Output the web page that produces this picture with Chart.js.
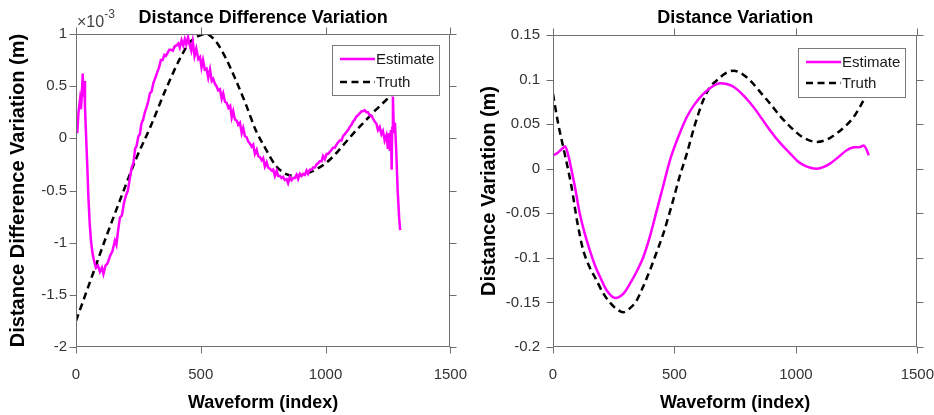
<!DOCTYPE html>
<html>
<head>
<meta charset="utf-8">
<script src="https://cdn.jsdelivr.net/npm/chart.js@4.4.1/dist/chart.umd.min.js"></script>
<style>
  html, body { margin: 0; padding: 0; background: #fff; }
  #wrap { position: relative; width: 934px; height: 415px; }
  .pane { position: absolute; top: 0; width: 467px; height: 415px; }
</style>
</head>
<body>
<div id="wrap">
  <div class="pane" style="left:0"><canvas id="ddChart" width="467" height="415"></canvas></div>
  <div class="pane" style="left:467px"><canvas id="dChart" width="467" height="415"></canvas></div>
</div>
<script>
// ---- left plot: distance difference (values in units of 1e-3 m) ----
var ddEstX = [0, 5, 10, 16, 20, 24, 27, 30, 33, 36, 40, 45, 50, 55, 60, 66, 72, 80, 88, 96, 104, 110, 118, 126, 136, 146, 156, 162, 170, 176, 184, 192, 200, 208, 216, 223, 230, 237, 243, 250, 256, 262, 269, 276, 283, 290, 296, 303, 310, 318, 325, 333, 340, 347, 354, 360, 367, 374, 380, 388, 395, 403, 410, 416, 423, 430, 436, 442, 449, 455, 462, 468, 475, 482, 490, 497, 503, 509, 516, 523, 530, 537, 544, 550, 557, 563, 570, 577, 584, 590, 597, 604, 611, 618, 624, 630, 637, 644, 650, 657, 664, 670, 677, 684, 690, 697, 704, 710, 717, 724, 730, 737, 744, 750, 757, 764, 770, 777, 784, 790, 797, 804, 810, 817, 824, 830, 837, 844, 850, 857, 864, 870, 877, 884, 890, 897, 904, 910, 917, 924, 930, 937, 944, 950, 957, 964, 970, 977, 984, 990, 997, 1004, 1010, 1017, 1024, 1030, 1037, 1044, 1050, 1057, 1064, 1070, 1077, 1084, 1090, 1097, 1104, 1110, 1117, 1124, 1130, 1137, 1144, 1150, 1157, 1164, 1170, 1177, 1184, 1190, 1197, 1204, 1210, 1217, 1224, 1230, 1237, 1244, 1250, 1254, 1258, 1262, 1265, 1267, 1270, 1274, 1278, 1283, 1289, 1295, 1299];
var ddEstY = [0.18, 0.05, 0.25, 0.37, 0.28, 0.45, 0.62, 0.40, 0.55, 0.30, 0.05, -0.25, -0.58, -0.82, -0.98, -1.10, -1.17, -1.24, -1.22, -1.28, -1.24, -1.30, -1.22, -1.20, -1.13, -1.08, -0.98, -1.02, -0.86, -0.76, -0.74, -0.62, -0.55, -0.50, -0.38, -0.28, -0.24, -0.10, -0.07, 0.02, 0.04, 0.14, 0.18, 0.25, 0.30, 0.36, 0.43, 0.45, 0.53, 0.58, 0.63, 0.68, 0.75, 0.75, 0.80, 0.79, 0.82, 0.85, 0.85, 0.84, 0.88, 0.89, 0.91, 0.87, 0.94, 0.89, 0.95, 0.90, 0.97, 0.90, 0.84, 0.93, 0.79, 0.86, 0.76, 0.78, 0.68, 0.75, 0.66, 0.67, 0.58, 0.66, 0.55, 0.57, 0.52, 0.50, 0.46, 0.47, 0.38, 0.43, 0.35, 0.34, 0.29, 0.31, 0.20, 0.26, 0.18, 0.17, 0.13, 0.15, 0.05, 0.10, 0.02, 0.01, -0.03, -0.05, -0.08, -0.06, -0.15, -0.11, -0.17, -0.18, -0.21, -0.19, -0.27, -0.23, -0.28, -0.29, -0.31, -0.30, -0.36, -0.31, -0.36, -0.36, -0.38, -0.37, -0.40, -0.39, -0.43, -0.37, -0.40, -0.38, -0.38, -0.35, -0.39, -0.34, -0.36, -0.34, -0.35, -0.31, -0.34, -0.30, -0.30, -0.28, -0.28, -0.25, -0.24, -0.22, -0.22, -0.17, -0.20, -0.15, -0.15, -0.13, -0.11, -0.09, -0.09, -0.06, -0.04, -0.02, -0.02, 0.02, 0.04, 0.06, 0.08, 0.11, 0.13, 0.16, 0.18, 0.21, 0.22, 0.24, 0.26, 0.26, 0.27, 0.25, 0.25, 0.22, 0.22, 0.19, 0.16, 0.14, 0.08, 0.11, 0.04, 0.07, -0.02, 0.03, -0.10, 0.05, -0.12, 0.08, -0.30, 0.10, 0.40, 0.05, 0.15, -0.10, -0.50, -0.76, -0.88, -0.97];
var ddTruthX = [0, 60, 120, 180, 240, 300, 360, 420, 460, 500, 520, 560, 600, 640, 680, 720, 760, 800, 840, 880, 920, 960, 1000, 1040, 1080, 1120, 1160, 1200, 1240, 1270, 1300];
var ddTruthY = [-1.75, -1.35, -0.95, -0.57, -0.20, 0.12, 0.47, 0.78, 0.93, 0.99, 1.0, 0.93, 0.77, 0.56, 0.33, 0.08, -0.10, -0.26, -0.34, -0.36, -0.34, -0.30, -0.24, -0.15, -0.04, 0.07, 0.17, 0.27, 0.36, 0.43, 0.50];

// ---- right plot: distance (m) ----
var dEstX = [0, 20, 40, 50, 60, 75, 90, 110, 130, 151, 175, 193, 220, 257, 290, 317, 345, 372, 400, 427, 455, 482, 515, 551, 585, 619, 655, 688, 715, 743, 785, 826, 860, 894, 935, 977, 1005, 1032, 1060, 1087, 1115, 1142, 1175, 1211, 1240, 1260, 1280, 1290, 1300];
var dEstY = [0.015, 0.018, 0.023, 0.025, 0.018, 0.0, -0.02, -0.05, -0.072, -0.091, -0.110, -0.121, -0.136, -0.145, -0.140, -0.129, -0.115, -0.099, -0.075, -0.047, -0.018, 0.010, 0.035, 0.058, 0.073, 0.084, 0.092, 0.096, 0.095, 0.092, 0.082, 0.069, 0.056, 0.043, 0.029, 0.017, 0.009, 0.004, 0.001, 0.0, 0.002, 0.006, 0.013, 0.021, 0.024, 0.024, 0.026, 0.022, 0.015];
var dTruthX = [0, 21, 48, 76, 100, 124, 150, 179, 205, 234, 260, 289, 315, 344, 370, 399, 425, 454, 495, 520, 551, 585, 619, 645, 674, 710, 743, 775, 812, 850, 894, 935, 977, 1030, 1087, 1130, 1170, 1205, 1238, 1265, 1287, 1300];
var dTruthY = [0.084, 0.051, 0.017, -0.020, -0.060, -0.091, -0.110, -0.125, -0.139, -0.150, -0.157, -0.161, -0.157, -0.148, -0.133, -0.114, -0.095, -0.073, -0.035, -0.010, 0.017, 0.050, 0.077, 0.091, 0.099, 0.107, 0.110, 0.107, 0.099, 0.087, 0.073, 0.059, 0.047, 0.035, 0.030, 0.033, 0.040, 0.048, 0.058, 0.070, 0.081, 0.088];

var seriesNames = ['Estimate', 'Truth'];
var xTicks = [0, 500, 1000, 1500];

var FONT = '"Liberation Sans", Arial, sans-serif';
var MAGENTA = '#ff00ff';

function pts(xs, ys) {
    return xs.map(function (x, i) { return { x: x, y: ys[i] }; });
}
function fmt(v) { return String(+Number(v).toFixed(3)); }

// box, outward ticks, title, legend and exponent label, MATLAB style
var frame = {
    id: 'frame',
    afterDatasetsDraw: function (chart, args, opts) {
        var ctx = chart.ctx, a = chart.chartArea;
        var L = Math.round(a.left) + 0.5, R = Math.round(a.right) - 0.5;
        var T = Math.round(a.top) + 0.5, B = Math.round(a.bottom) - 0.5;
        var tl = 7;
        ctx.save();
        ctx.strokeStyle = '#6e6e6e';
        ctx.lineWidth = 1;
        ctx.beginPath();
        ctx.rect(L, T, R - L, B - T);
        chart.scales.x.ticks.forEach(function (t) {
            var px = Math.round(chart.scales.x.getPixelForValue(t.value)) + 0.5;
            ctx.moveTo(px, B); ctx.lineTo(px, B + tl);
            ctx.moveTo(px, T); ctx.lineTo(px, T - tl);
        });
        chart.scales.y.ticks.forEach(function (t) {
            var py = Math.round(chart.scales.y.getPixelForValue(t.value)) + 0.5;
            ctx.moveTo(L, py); ctx.lineTo(L - tl, py);
            ctx.moveTo(R, py); ctx.lineTo(R + tl, py);
        });
        ctx.stroke();

        // title centred over the axes box
        ctx.fillStyle = '#000';
        ctx.font = 'bold 18px ' + FONT;
        ctx.textAlign = 'center';
        ctx.textBaseline = 'middle';
        ctx.fillText(opts.title, (a.left + a.right) / 2, 18);

        // legend
        var lg = opts.legend;
        ctx.fillStyle = '#fff';
        ctx.fillRect(lg.x, lg.y, lg.w, lg.h);
        ctx.strokeStyle = '#7a7a7a';
        ctx.strokeRect(lg.x + 0.5, lg.y + 0.5, lg.w, lg.h);
        ctx.font = '15px ' + FONT;
        ctx.textBaseline = 'middle';
        ctx.textAlign = 'left';
        chart.data.datasets.forEach(function (ds, i) {
            var ry = lg.y + lg.rows[i];
            ctx.beginPath();
            ctx.strokeStyle = ds.borderColor;
            ctx.lineWidth = ds.borderWidth;
            ctx.setLineDash(ds.borderDash || []);
            ctx.moveTo(lg.x + 8, ry);
            ctx.lineTo(lg.x + 43, ry);
            ctx.stroke();
            ctx.setLineDash([]);
            ctx.fillStyle = '#1a1a1a';
            ctx.fillText(ds.label, lg.x + 44, ry + 1);
        });

        if (opts.exponent) {
            ctx.fillStyle = '#444';
            ctx.textBaseline = 'alphabetic';
            ctx.font = '16px ' + FONT;
            ctx.fillText('\u00d710', a.left + 1, a.top - 7);
            var w = ctx.measureText('\u00d710').width;
            ctx.font = '12px ' + FONT;
            ctx.fillText(opts.exponent, a.left + 1 + w, a.top - 16);
        }
        ctx.restore();
    }
};

function makeChart(id, cfg) {
    return new Chart(document.getElementById(id).getContext('2d'), {
        type: 'line',
        data: {
            datasets: [{
                label: seriesNames[0],
                data: pts(cfg.estX, cfg.estY),
                borderColor: MAGENTA,
                borderWidth: 2.5,
                pointRadius: 0,
                tension: 0,
                cubicInterpolationMode: cfg.smoothEst ? 'monotone' : 'default'
            }, {
                label: seriesNames[1],
                data: pts(cfg.truthX, cfg.truthY),
                borderColor: '#000',
                borderWidth: 2.5,
                borderDash: [7, 4.5],
                pointRadius: 0,
                cubicInterpolationMode: 'monotone'
            }]
        },
        plugins: [frame],
        options: {
            responsive: false,
            animation: false,
            layout: { padding: { left: 0, right: 0, top: cfg.top, bottom: 0 } },
            plugins: {
                legend: { display: false },
                tooltip: { enabled: false },
                title: { display: false },
                frame: { legend: cfg.legend, exponent: cfg.exponent, title: cfg.title }
            },
            scales: {
                x: {
                    type: 'linear',
                    min: 0, max: 1500,
                    afterBuildTicks: function (s) { s.ticks = xTicks.map(function (v) { return { value: v }; }); },
                    afterFit: function (s) { s.height = 415 - cfg.bottom; },
                    // grid lines hidden; tickLength only pushes the labels down
                    grid: { display: false, drawTicks: true, tickLength: 19 },
                    border: { display: false },
                    ticks: { color: '#333', font: { family: FONT, size: 15 }, padding: 0, maxRotation: 0, callback: fmt },
                    title: { display: true, text: 'Waveform (index)', color: '#000', font: { family: FONT, size: 18, weight: 'bold' }, padding: { top: 0, bottom: 1 } }
                },
                y: {
                    min: cfg.yMin, max: cfg.yMax,
                    ticks: { stepSize: cfg.yStep, color: '#333', font: { family: FONT, size: 15 }, padding: cfg.yPad, callback: fmt },
                    afterFit: function (s) { s.width = cfg.left; },
                    grid: { display: false, drawTicks: false },
                    border: { display: false },
                    title: { display: true, text: cfg.yTitle, color: '#000', font: { family: FONT, size: 20, weight: 'bold' }, padding: { top: cfg.yTitlePad, bottom: 0 } }
                }
            }
        }
    });
}

makeChart('ddChart', {
    estX: ddEstX, estY: ddEstY, truthX: ddTruthX, truthY: ddTruthY, smoothEst: false,
    title: 'Distance Difference Variation',
    yTitle: 'Distance Difference Variation (m)',
    yMin: -2, yMax: 1, yStep: 0.5, yPad: 9,
    left: 76, top: 34, bottom: 347, yTitlePad: 6.5,
    exponent: '-3',
    legend: { x: 332, y: 45, w: 107, h: 50, rows: [14, 37] }
});

makeChart('dChart', {
    estX: dEstX, estY: dEstY, truthX: dTruthX, truthY: dTruthY, smoothEst: true,
    title: 'Distance Variation',
    yTitle: 'Distance Variation (m)',
    yMin: -0.2, yMax: 0.15, yStep: 0.05, yPad: 13,
    left: 86, top: 35, bottom: 347, yTitlePad: 10,
    exponent: null,
    legend: { x: 331, y: 48, w: 107, h: 49, rows: [14, 35] }
});
</script>
</body>
</html>
